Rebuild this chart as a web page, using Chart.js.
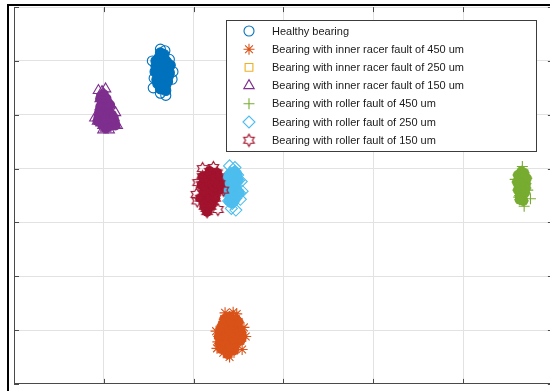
<!DOCTYPE html>
<html>
<head>
<meta charset="utf-8">
<script src="https://cdn.jsdelivr.net/npm/chart.js@4.4.1/dist/chart.umd.min.js"></script>
<style>
  html, body { margin: 0; padding: 0; background: #fff; }
  #wrap { width: 550px; height: 391px; overflow: hidden; position: relative; }
  canvas { display: block; }
</style>
</head>
<body>
<div id="wrap"><canvas id="c" width="560" height="391"></canvas></div>
<script>
// ---- bearing classes (legend order) ----
const classNames = [
  'Healthy bearing',
  'Bearing with inner racer fault of 450 um',
  'Bearing with inner racer fault of 250 um',
  'Bearing with inner racer fault of 150 um',
  'Bearing with roller fault of 450 um',
  'Bearing with roller fault of 250 um',
  'Bearing with roller fault of 150 um'
];

// ---- feature-space samples, [x, y] ----
const healthyCore = [
  [1.66,5.82],[1.62,5.95],[1.70,5.70],[1.64,6.08],[1.68,6.02],[1.60,5.75],[1.72,5.88],[1.65,5.60],
  [1.58,5.90],[1.69,5.55],[1.63,5.48],[1.67,6.12],[1.61,6.05],[1.73,5.78],[1.59,5.65],[1.66,5.95],
  [1.70,5.98],[1.62,5.70],[1.64,5.52],[1.68,5.66],[1.57,5.80],[1.71,5.62],[1.65,5.85],[1.63,6.15],
  [1.69,5.45],[1.60,5.58],[1.74,5.92],[1.66,5.72],[1.61,5.86],[1.67,5.50],[1.72,5.72],[1.58,6.00]
];
const healthyOuter = [
  [1.55,5.50],[1.63,5.40],[1.69,5.36],[1.63,6.22],[1.68,6.19],[1.54,6.00],[1.77,5.80],[1.76,5.66],
  [1.56,5.68],[1.73,6.03]
];

const inner450Core = [
  [2.41,0.90],[2.36,1.05],[2.46,0.98],[2.40,1.18],[2.33,0.85],[2.50,0.88],[2.44,0.72],[2.38,0.70],
  [2.30,0.95],[2.48,1.10],[2.42,1.05],[2.35,0.78],[2.52,0.80],[2.45,0.62],[2.39,0.60],[2.32,1.10],
  [2.47,1.20],[2.37,0.92],[2.43,0.82],[2.29,0.75],[2.51,1.00],[2.40,1.25],[2.34,1.20],[2.46,0.70],
  [2.38,0.55],[2.44,1.12],[2.31,0.65],[2.49,0.92],[2.36,0.88],[2.42,0.98],[2.28,0.88],[2.53,0.95],
  [2.50,1.15],[2.30,1.02],[2.42,0.68],[2.54,0.88]
];
const inner450Outer = [
  [2.25,0.98],[2.58,0.88],[2.40,0.50],[2.35,1.32],[2.48,1.30],[2.27,0.78],[2.54,0.64],[2.33,0.58],
  [2.44,1.33],[2.56,1.05],[2.26,0.66]
];

const inner250Core = [
  [1.02,5.05],[1.00,4.95],[1.05,5.10],[0.99,5.15],[1.04,4.90],[1.01,5.20],[1.06,5.00],[0.98,5.02]
];
const inner250Outer = [];

const inner150Core = [
  [0.97,5.35],[1.00,5.25],[1.03,5.30],[0.96,5.15],[1.02,5.10],[1.06,5.05],[0.99,5.00],[0.94,4.95],
  [1.08,4.92],[1.03,4.88],[0.97,4.85],[1.10,4.82],[1.05,4.78],[0.99,4.80],[1.12,4.88],[0.95,5.05],
  [1.07,5.18],[1.01,4.93],[0.98,5.22],[1.04,4.98],[1.09,5.00],[0.93,4.88],[1.02,4.75],[1.11,4.95],
  [0.96,5.30],[1.00,5.38],[1.05,5.22],[1.13,4.80]
];
const inner150Outer = [
  [0.94,5.45],[1.02,5.48],[0.98,5.43],[1.15,4.80],[0.90,4.94],[1.06,4.72],[0.99,4.72],[1.13,5.04]
];

const roller450Core = [
  [5.65,3.70],[5.62,3.80],[5.68,3.62],[5.64,3.90],[5.67,3.85],[5.61,3.60],[5.70,3.72],[5.63,3.50],
  [5.66,3.45],[5.69,3.55],[5.60,3.75],[5.65,3.95],[5.67,3.40],[5.62,3.68],[5.71,3.82],[5.64,3.58],
  [5.68,3.92],[5.61,3.88],[5.66,3.78],[5.63,3.42],[5.70,3.64],[5.66,3.58]
];
const roller450Outer = [
  [5.66,4.04],[5.68,3.30],[5.75,3.44],[5.58,3.80],[5.72,3.60],[5.62,3.47]
];

const roller250Core = [
  [2.43,3.63],[2.40,3.75],[2.46,3.70],[2.38,3.55],[2.45,3.50],[2.42,3.85],[2.48,3.60],[2.39,3.40],
  [2.44,3.38],[2.50,3.78],[2.41,3.92],[2.47,3.45],[2.37,3.68],[2.49,3.88],[2.43,3.35],[2.36,3.82],
  [2.46,3.95],[2.40,3.50],[2.44,3.72],[2.51,3.55]
];
const roller250Outer = [
  [2.40,4.05],[2.46,4.02],[2.53,3.76],[2.52,3.43],[2.47,3.23],[2.42,3.26],[2.54,3.58]
];

const roller150Core = [
  [2.20,3.65],[2.15,3.75],[2.25,3.70],[2.11,3.55],[2.23,3.50],[2.17,3.88],[2.28,3.60],[2.13,3.40],
  [2.21,3.38],[2.09,3.70],[2.27,3.85],[2.18,3.95],[2.14,3.62],[2.24,3.45],[2.10,3.85],[2.22,3.80],
  [2.16,3.48],[2.29,3.72],[2.19,3.30],[2.08,3.45],[2.26,3.92],[2.12,3.30],[2.20,3.55],[2.15,3.20]
];
const roller150Outer = [
  [2.05,3.74],[2.04,3.40],[2.14,3.26],[2.27,3.24],[2.33,3.60],[2.22,4.02],[2.10,4.00],[2.03,3.52]
];

// axis ranges and grid step
const xRange = [0, 6];
const yRange = [0, 7];

// ---- styling ----
const colors = ['#0072BD', '#D95319', '#EDB120', '#7E2F8E', '#77AC30', '#4DBEEE', '#A2142F'];

// six-pointed star outline used for the last class
function makeHexagram(color) {
  const c = document.createElement('canvas');
  c.width = 15; c.height = 15;
  const g = c.getContext('2d');
  g.strokeStyle = color; g.lineWidth = 1.2;
  g.beginPath();
  const ro = 6, ri = 6 / Math.sqrt(3);
  for (let k = 0; k < 12; k++) {
    const a = -Math.PI / 2 + k * Math.PI / 6;
    const r = k % 2 === 0 ? ro : ri;
    const px = 7.5 + r * Math.cos(a), py = 7.5 + r * Math.sin(a);
    if (k === 0) g.moveTo(px, py); else g.lineTo(px, py);
  }
  g.closePath(); g.stroke();
  return c;
}
const hexagram = makeHexagram(colors[6]);

const markers = [
  { style: 'circle', radius: 5 },
  { style: 'star', radius: 5.5 },
  { style: 'rect', radius: 5.5 },
  { style: 'triangle', radius: 6 },
  { style: 'cross', radius: 5.5 },
  { style: 'rectRot', radius: 6 },
  { style: hexagram, radius: 6 }
];

const coreSets = [healthyCore, inner450Core, inner250Core, inner150Core, roller450Core, roller250Core, roller150Core];
const outerSets = [healthyOuter, inner450Outer, inner250Outer, inner150Outer, roller450Outer, roller250Outer, roller150Outer];
const toXY = arr => arr.map(p => ({ x: p[0], y: p[1] }));

// later classes are painted over earlier ones
const datasets = [];
const n = classNames.length;
for (let k = 0; k < n; k++) {
  datasets.push({
    label: classNames[k] + ' (core)',
    data: toXY(coreSets[k]),
    pointStyle: 'circle',
    pointRadius: 5,
    backgroundColor: colors[k],
    borderWidth: 0,
    order: (n - k) * 2
  });
  datasets.push({
    label: classNames[k],
    data: toXY(coreSets[k].concat(outerSets[k])),
    pointStyle: markers[k].style,
    pointRadius: markers[k].radius,
    backgroundColor: 'rgba(0,0,0,0)',
    borderColor: colors[k],
    borderWidth: 1.1,
    order: (n - k) * 2 - 1
  });
}

const axisColor = '#4a4a4a';

// inward tick marks on all four sides plus the outer dark frame
const framePlugin = {
  id: 'frame',
  beforeDatasetsDraw(chart) {
    const { ctx, chartArea: a, scales } = chart;
    ctx.save();
    ctx.strokeStyle = axisColor;
    ctx.lineWidth = 1;
    ctx.beginPath();
    scales.x.ticks.forEach(t => {
      const px = Math.round(scales.x.getPixelForValue(t.value)) + 0.5;
      ctx.moveTo(px, a.bottom); ctx.lineTo(px, a.bottom - 5);
      ctx.moveTo(px, a.top); ctx.lineTo(px, a.top + 5);
    });
    scales.y.ticks.forEach(t => {
      const py = Math.round(scales.y.getPixelForValue(t.value)) + 0.5;
      ctx.moveTo(a.left, py); ctx.lineTo(a.left + 5, py);
      ctx.moveTo(a.right, py); ctx.lineTo(a.right - 5, py);
    });
    ctx.stroke();
    ctx.restore();
  },
  afterDraw(chart) {
    const ctx = chart.ctx;
    ctx.save();
    ctx.fillStyle = '#000';
    ctx.fillRect(7, 4, 2, 387);
    ctx.fillRect(7, 4, 560, 2);
    ctx.restore();
  }
};

// boxed legend inside the axes
const legendPlugin = {
  id: 'boxLegend',
  afterDatasetsDraw(chart) {
    const ctx = chart.ctx;
    const box = { x: 226, y: 20, w: 311, h: 132 };
    ctx.save();
    ctx.fillStyle = '#fff';
    ctx.fillRect(box.x, box.y, box.w, box.h);
    ctx.strokeStyle = '#3c3c3c';
    ctx.lineWidth = 1;
    ctx.strokeRect(box.x + 0.5, box.y + 0.5, box.w - 1, box.h - 1);
    ctx.font = '11px "Liberation Sans", Arial, sans-serif';
    ctx.textBaseline = 'middle';
    for (let k = 0; k < n; k++) {
      const cy = box.y + 11 + k * 18.2;
      ctx.save();
      ctx.strokeStyle = colors[k];
      ctx.fillStyle = 'rgba(0,0,0,0)';
      ctx.lineWidth = 1.1;
      Chart.helpers.drawPoint(ctx, {
        pointStyle: markers[k].style,
        radius: markers[k].radius,
        rotation: 0,
        borderWidth: 1.1
      }, 249, cy);
      ctx.restore();
      ctx.fillStyle = '#1a1a1a';
      ctx.fillText(classNames[k], 272, cy + 0.5);
    }
    ctx.restore();
  }
};

new Chart(document.getElementById('c'), {
  type: 'scatter',
  data: { datasets },
  options: {
    responsive: false,
    animation: false,
    events: [],
    layout: { padding: { left: 14, top: 5, right: 6, bottom: 4 } },
    plugins: { legend: { display: false }, tooltip: { enabled: false } },
    scales: {
      x: {
        type: 'linear', min: xRange[0], max: xRange[1],
        ticks: { display: false, stepSize: 1 },
        grid: { color: '#e2e2e2', lineWidth: 1, drawTicks: false },
        border: { display: true, color: axisColor, width: 1 }
      },
      y: {
        type: 'linear', min: yRange[0], max: yRange[1],
        ticks: { display: false, stepSize: 1 },
        grid: { color: '#e2e2e2', lineWidth: 1, drawTicks: false },
        border: { display: true, color: axisColor, width: 1 }
      }
    }
  },
  plugins: [framePlugin, legendPlugin]
});
</script>
</body>
</html>
